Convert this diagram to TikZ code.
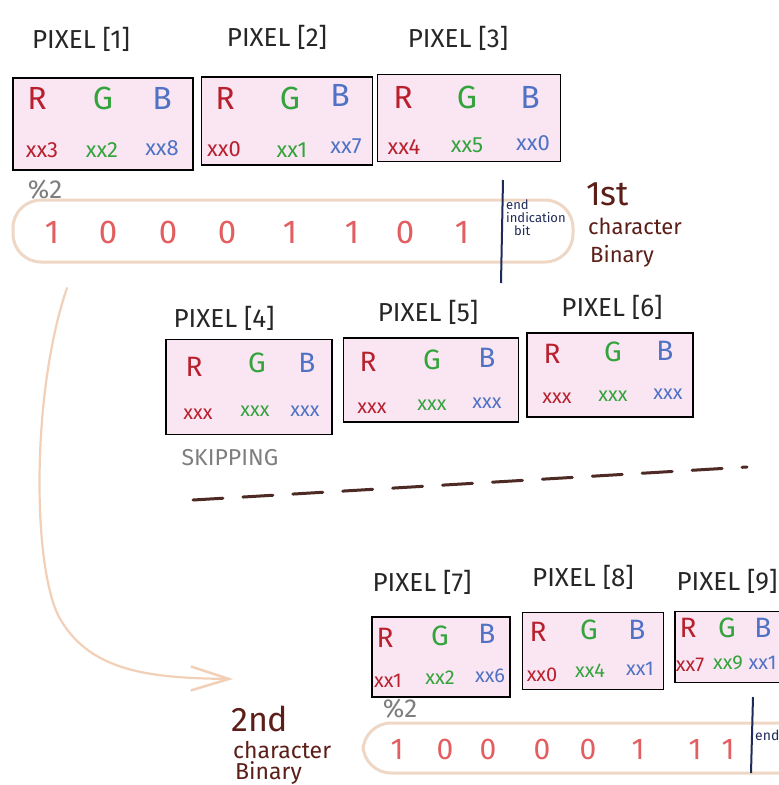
\documentclass[tikz,border=0pt]{standalone}
\usepackage{fontspec}
\setmainfont{Fira Sans}
\usetikzlibrary{arrows.meta}
\definecolor{boxfill}{HTML}{FAE6F3}
\definecolor{rcol}{HTML}{B8202E}
\definecolor{gcol}{HTML}{33A33C}
\definecolor{bcol}{HTML}{4F72C4}
\definecolor{digcol}{HTML}{E35E60}
\definecolor{bandcol}{HTML}{EFD7C6}
\definecolor{arrcol}{HTML}{F2D0B8}
\definecolor{browncol}{HTML}{5C1E18}
\definecolor{dashcol}{HTML}{4E2A24}
\definecolor{navycol}{HTML}{1E2A5A}
\definecolor{graycol}{HTML}{7E7E7E}
\tikzset{
  pixbox/.style={draw=black, line width=1.8pt, fill=boxfill, inner sep=0pt},
  hdr/.style={font=\fontsize{26}{28}\selectfont, text=black!85},
  rl/.style={font=\fontsize{32}{34}\selectfont, text=rcol},
  gl/.style={font=\fontsize{32}{34}\selectfont, text=gcol},
  bl/.style={font=\fontsize{32}{34}\selectfont, text=bcol},
  rs/.style={font=\fontsize{28}{30}\selectfont, text=rcol},
  gs/.style={font=\fontsize{28}{30}\selectfont, text=gcol},
  bs/.style={font=\fontsize{28}{30}\selectfont, text=bcol},
  rv/.style={font=\fontsize{22}{24}\selectfont, text=rcol},
  gv/.style={font=\fontsize{22}{24}\selectfont, text=gcol},
  bv/.style={font=\fontsize{22}{24}\selectfont, text=bcol},
  rw/.style={font=\fontsize{20}{22}\selectfont, text=rcol},
  gw/.style={font=\fontsize{20}{22}\selectfont, text=gcol},
  bw/.style={font=\fontsize{20}{22}\selectfont, text=bcol},
  dig/.style={font=\fontsize{33}{35}\selectfont, text=digcol},
  digs/.style={font=\fontsize{30}{32}\selectfont, text=digcol},
  band/.style={draw=bandcol, line width=3pt, rounded corners=28pt, inner sep=0pt},
  modl/.style={font=\fontsize{26}{28}\selectfont, text=graycol},
  endbar/.style={draw=navycol, line width=2pt},
  brownlbl/.style={text=browncol, inner sep=0pt, anchor=base west}
}
\begin{document}
\begin{tikzpicture}[x=1pt,y=-1pt]
\useasboundingbox[fill=white] (0,0) rectangle (779,785);

% ---------- row 1 ----------
\node[hdr] (h1) at (81,39) {PIXEL [1]};
\node[hdr] (h2) at (277,37) {PIXEL [2]};
\node[hdr] (h3) at (458,38) {PIXEL [3]};

\node[pixbox, minimum width=180pt, minimum height=92pt] (p1) at (103,124) {};
\node[pixbox, minimum width=171pt, minimum height=88pt] (p2) at (287,121) {};
\node[pixbox, minimum width=183pt, minimum height=87pt] (p3) at (469,118) {};

\node[rl] (p1r) at (37,98) {R};
\node[gl] (p1g) at (103,98) {G};
\node[bl] (p1b) at (162,98) {B};
\node[rv] (p1rv) at (42,150) {xx3};
\node[gv] (p1gv) at (102,150) {xx2};
\node[bv] (p1bv) at (162,148) {xx8};

\node[rl] (p2r) at (225,98) {R};
\node[gl] (p2g) at (290,98) {G};
\node[bl] (p2b) at (340,95) {B};
\node[rv] (p2rv) at (224,149) {xx0};
\node[gv] (p2gv) at (292,150) {xx1};
\node[bv] (p2bv) at (346,146) {xx7};

\node[rl] (p3r) at (403,97) {R};
\node[gl] (p3g) at (467,97) {G};
\node[bl] (p3b) at (530,97) {B};
\node[rv] (p3rv) at (404,147) {xx4};
\node[gv] (p3gv) at (467,145) {xx5};
\node[bv] (p3bv) at (533,143) {xx0};

% ---------- band 1 ----------
\node[modl] (m1) at (45,190) {\%2};
\node[band, minimum width=560pt, minimum height=62pt] (b1) at (293,231) {};
\foreach \x/\d [count=\i] in {52/1,108/0,168/0,227/0,290/1,352/1,405/0,462/1}
  \node[dig] (b1d\i) at (\x,232) {\d};
\coordinate (e1top) at (503,180);
\coordinate (e1bot) at (501,283);
\draw[endbar] (e1top) -- (e1bot);
\node[font=\fontsize{13}{13}\selectfont, text=navycol, align=left, inner sep=0pt, anchor=north west] (endtxt) at (506,200) {end\\indication\\\hspace*{8pt}bit};
\node[brownlbl, font=\fontsize{34}{34}\selectfont] (lbl1a) at (586,205) {1st};
\node[brownlbl, font=\fontsize{22}{22}\selectfont] (lbl1b) at (588,234) {character};
\node[brownlbl, font=\fontsize{22}{22}\selectfont] (lbl1c) at (590,262) {Binary};

% ---------- curved arrow ----------
\coordinate (arrStart) at (67,288);
\coordinate (arrEnd) at (233,679);
\draw[arrcol, line width=2.2pt, line cap=round, -{Straight Barb[length=38pt,width=24pt,line width=2.5pt]}]
  (arrStart) .. controls (32,390) and (32,560) .. (58,615) .. controls (88,672) and (150,678) .. (arrEnd);

% ---------- row 2 ----------
\node[hdr] (h4) at (224,318) {PIXEL [4]};
\node[hdr] (h5) at (428,312) {PIXEL [5]};
\node[hdr] (h6) at (612,307) {PIXEL [6]};

\node[pixbox, minimum width=166pt, minimum height=95pt] (p4) at (249,387) {};
\node[pixbox, minimum width=175pt, minimum height=84pt] (p5) at (431,380) {};
\node[pixbox, minimum width=166pt, minimum height=84pt] (p6) at (610,375) {};

\node[rs] (p4r) at (194,367) {R};
\node[gs] (p4g) at (257,363) {G};
\node[bs] (p4b) at (307,363) {B};
\node[rw] (p4rv) at (198,414) {xxx};
\node[gw] (p4gv) at (255,411) {xxx};
\node[bw] (p4bv) at (305,411) {xxx};

\node[rs] (p5r) at (368,362) {R};
\node[gs] (p5g) at (432,360) {G};
\node[bs] (p5b) at (487,358) {B};
\node[rw] (p5rv) at (372,408) {xxx};
\node[gw] (p5gv) at (432,405) {xxx};
\node[bw] (p5bv) at (487,403) {xxx};

\node[rs] (p6r) at (552,354) {R};
\node[gs] (p6g) at (613,352) {G};
\node[bs] (p6b) at (665,351) {B};
\node[rw] (p6rv) at (557,398) {xxx};
\node[gw] (p6gv) at (613,396) {xxx};
\node[bw] (p6bv) at (668,394) {xxx};

\node[font=\fontsize{23}{25}\selectfont, text=graycol] (skip) at (230,458) {SKIPPING};
\coordinate (dashA) at (193,500);
\coordinate (dashB) at (747,467);
\draw[dashcol, line width=3pt, line cap=round, dash pattern=on 30pt off 20pt] (dashA) -- (dashB);

% ---------- row 3 ----------
\node[hdr] (h7) at (422,582) {PIXEL [7]};
\node[hdr] (h8) at (583,577) {PIXEL [8]};
\node[hdr] (h9) at (727,581) {PIXEL [9]};

\node[pixbox, minimum width=138pt, minimum height=80pt] (p7) at (441,657) {};
\node[pixbox, minimum width=141pt, minimum height=77pt] (p8) at (593,651) {};
\node[pixbox, minimum width=130pt, minimum height=71pt] (p9) at (740,647) {};

\node[rs] (p7r) at (385,638) {R};
\node[gs] (p7g) at (440,636) {G};
\node[bs] (p7b) at (487,634) {B};
\node[rw] (p7rv) at (388,681) {xx1};
\node[gw] (p7gv) at (440,678) {xx2};
\node[bw] (p7bv) at (490,676) {xx6};

\node[rs] (p8r) at (538,632) {R};
\node[gs] (p8g) at (589,630) {G};
\node[bs] (p8b) at (637,630) {B};
\node[rw] (p8rv) at (542,675) {xx0};
\node[gw] (p8gv) at (590,671) {xx4};
\node[bw] (p8bv) at (640,669) {xx1};

\node[rs] (p9r) at (688,628) {R};
\node[gs] (p9g) at (727,628) {G};
\node[bs] (p9b) at (763,628) {B};
\node[rw] (p9rv) at (690,665) {xx7};
\node[gw] (p9gv) at (728,663) {xx9};
\node[bw, anchor=east] (p9bv) at (780,663) {xx1};

% ---------- band 2 ----------
\node[modl] (m2) at (400,709) {\%2};
\node[band, minimum width=470pt, minimum height=50pt] (b2) at (598,748) {};
\foreach \x/\d [count=\i] in {397/1,445/0,488/0,542/0,588/0,638/1,695/1,728/1}
  \node[digs] (b2d\i) at (\x,749) {\d};
\coordinate (e2top) at (753,697);
\coordinate (e2bot) at (751,773);
\draw[endbar] (e2top) -- (e2bot);
\node[font=\fontsize{14}{14}\selectfont, text=navycol, inner sep=0pt, anchor=west] (end2) at (755,735) {end};

\node[brownlbl, font=\fontsize{34}{34}\selectfont] (lbl2a) at (231,731) {2nd};
\node[brownlbl, font=\fontsize{23}{23}\selectfont] (lbl2b) at (233,758) {character};
\node[brownlbl, font=\fontsize{23}{23}\selectfont] (lbl2c) at (235,779) {Binary};
\end{tikzpicture}
\end{document}
